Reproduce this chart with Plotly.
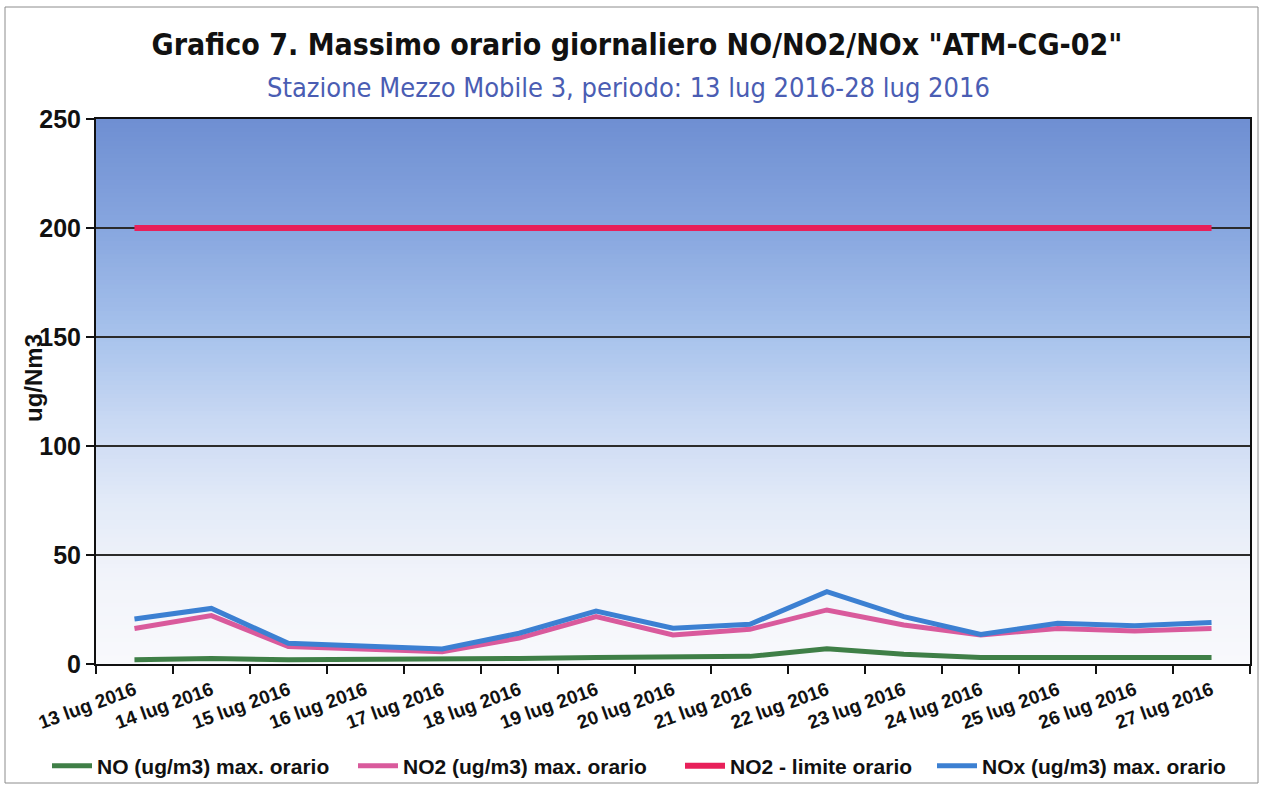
import plotly.graph_objects as go

# Daily maximum hourly values, station "Mezzo Mobile 3"
days = ["13 lug 2016", "14 lug 2016", "15 lug 2016", "16 lug 2016", "17 lug 2016",
        "18 lug 2016", "19 lug 2016", "20 lug 2016", "21 lug 2016", "22 lug 2016",
        "23 lug 2016", "24 lug 2016", "25 lug 2016", "26 lug 2016", "27 lug 2016"]
no_max = [2.0, 2.5, 2.0, 2.0, 2.5, 2.5, 3.0, 3.5, 3.5, 7.0, 4.5, 3.0, 3.0, 3.0, 3.0]
no2_max = [16.3, 22.2, 8.0, 6.9, 5.6, 11.9, 21.7, 13.3, 15.9, 24.8, 17.9, 13.3, 16.3, 15.1, 16.3]
no2_limit = [200] * 15
nox_max = [20.6, 25.5, 9.5, 8.0, 6.9, 14.1, 24.3, 16.4, 18.2, 33.2, 21.7, 13.6, 18.7, 17.6, 19.0]

y_ticks = [0, 50, 100, 150, 200, 250]

FONT = "Liberation Sans, Arial, sans-serif"
TITLE_FONT = "DejaVu Sans Condensed, DejaVu Sans, sans-serif"

# plot area in pixels (left, right, top, bottom)
PL, PR, PT, PB = 96, 1250, 119, 664
PW, PH = PR - PL, PB - PT


def px_x(px):
    return (px - PL) / PW


def px_y(py):
    return (PB - py) / PH


fig = go.Figure()

# one legend per series so every entry sits at its own place along the bottom
series = [
    ("NO (ug/m3) max. orario", no_max, "#3f7f47", 5, "legend", 97),
    ("NO2 (ug/m3) max. orario", no2_max, "#d95a9c", 5, "legend2", 403),
    ("NO2 - limite orario", no2_limit, "#e8205a", 6, "legend3", 730),
    ("NOx (ug/m3) max. orario", nox_max, "#3c80d2", 5, "legend4", 982),
]
for name, vals, color, width, leg, _ in series:
    fig.add_trace(go.Scatter(
        x=days, y=vals, name=name, mode="lines",
        line=dict(color=color, width=width), legend=leg,
    ))

# vertical gradient behind the plot: white at the bottom, steel blue at the top
stops = [(0.0, (248, 249, 252)), (0.15, (242, 244, 250)), (0.3, (226, 234, 248)),
         (0.45, (200, 216, 243)), (0.6, (168, 195, 236)), (0.8, (135, 166, 223)),
         (1.0, (111, 143, 210))]


def grad_color(t):
    for (t0, c0), (t1, c1) in zip(stops[:-1], stops[1:]):
        if t <= t1:
            f = (t - t0) / (t1 - t0)
            c = [round(a + (b - a) * f) for a, b in zip(c0, c1)]
            return "rgb(%d,%d,%d)" % tuple(c)
    return "rgb(%d,%d,%d)" % stops[-1][1]


shapes = []
n_bands = 125
for i in range(n_bands):
    t0 = i / n_bands
    t1 = (i + 1) / n_bands
    shapes.append(dict(
        type="rect", xref="paper", yref="paper", x0=0, x1=1, y0=t0, y1=t1 + 0.002,
        fillcolor=grad_color((t0 + t1) / 2), line=dict(width=0), layer="below",
    ))

# outer frame of the chart area
shapes.append(dict(
    type="rect", xref="paper", yref="paper",
    x0=px_x(5), x1=px_x(1258), y0=px_y(783), y1=px_y(7),
    line=dict(color="#8c8c8c", width=1), layer="above",
))

legend_font = dict(family=FONT, size=21, color="#111111", weight="bold")
legends = {}
for _, _, _, _, leg, text_px in series:
    legends[leg] = dict(
        orientation="h", x=px_x(text_px - 50), xanchor="left",
        y=px_y(766), yanchor="middle",
        font=legend_font, bgcolor="rgba(0,0,0,0)", itemwidth=40,
    )

fig.update_layout(
    width=1263, height=787,
    margin=dict(l=PL, r=1263 - PR, t=PT, b=787 - PB, autoexpand=False),
    paper_bgcolor="white",
    plot_bgcolor="white",
    shapes=shapes,
    title=dict(
        text="<b>Grafico 7. Massimo orario giornaliero NO/NO2/NOx \"ATM-CG-02\"</b>",
        x=637 / 1263, xanchor="center", y=1 - 44 / 787, yanchor="middle",
        font=dict(family=TITLE_FONT, size=30, color="#111111"),
    ),
    annotations=[
        dict(
            text="Stazione Mezzo Mobile 3, periodo: 13 lug 2016-28 lug 2016",
            xref="paper", yref="paper", x=px_x(628), y=px_y(88),
            xanchor="center", yanchor="middle", showarrow=False,
            font=dict(family=TITLE_FONT, size=27, color="#4a5db3"),
        ),
        # y-axis title, set close to the tick labels
        dict(
            text="<b>ug/Nm3</b>", textangle=-90,
            xref="paper", yref="paper", x=px_x(33), y=px_y(378),
            xanchor="center", yanchor="middle", showarrow=False,
            font=dict(family=FONT, size=24, color="#111111"),
        ),
    ],
    showlegend=True,
    **legends,
)

fig.update_xaxes(
    type="category", range=[-0.5, 14.5], automargin=False,
    showline=True, linecolor="#111111", linewidth=2, mirror=True,
    ticks="outside", tickson="boundaries", ticklen=8, tickwidth=2, tickcolor="#111111",
    tickangle=-20, showgrid=False, ticklabelstandoff=6,
    tickfont=dict(family=FONT, size=19, color="#111111", weight="bold"),
)
fig.update_yaxes(
    range=[0, 250], tickvals=y_ticks, automargin=False,
    showline=True, linecolor="#111111", linewidth=2, mirror=True,
    ticks="outside", ticklen=8, tickwidth=2, tickcolor="#111111",
    showgrid=True, gridcolor="#2b2b2b", gridwidth=1.5, zeroline=False,
    tickfont=dict(family=FONT, size=25, color="#111111", weight="bold"),
)

fig.write_html("out.html")
